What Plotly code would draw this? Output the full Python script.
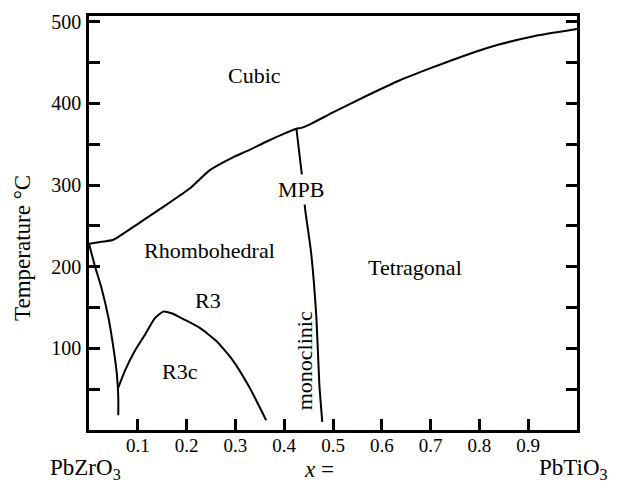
import plotly.graph_objects as go

# Phase boundaries (x = PbTiO3 fraction, T in °C)
cubic_x = [0.0, 0.02, 0.05, 0.104, 0.159, 0.207, 0.247, 0.295, 0.329, 0.363, 0.400, 0.425, 0.435, 0.455, 0.500, 0.568, 0.636, 0.704, 0.772, 0.840, 0.909, 1.0]
cubic_T = [228, 230, 233, 254, 276, 296, 318, 334, 343, 353, 363, 369, 370, 375, 389, 409, 428, 444, 459, 472, 482, 491]

mpb_x = [0.425, 0.436, 0.443, 0.455, 0.466, 0.472, 0.478]
mpb_T = [369, 314, 270, 218, 137, 56, 10]

afe_x = [0.0, 0.012, 0.026, 0.040, 0.050, 0.057, 0.060, 0.060]
afe_T = [228, 201, 173, 137, 101, 69, 40, 18]

r3c_x = [0.060, 0.074, 0.094, 0.115, 0.135, 0.152, 0.169, 0.196, 0.227, 0.261, 0.295, 0.329, 0.363]
r3c_T = [52, 73, 97, 117, 137, 145, 143, 135, 125, 109, 85, 52, 12]

x_ticks = [0.1, 0.2, 0.3, 0.4, 0.5, 0.6, 0.7, 0.8, 0.9]
x_ticklabels = ["0.1", "0.2", "0.3", "0.4", "0.5", "0.6", "0.7", "0.8", "0.9"]
y_ticks = [50, 100, 150, 200, 250, 300, 350, 400, 450, 500]
y_ticklabels = ["", "100", "", "200", "", "300", "", "400", "", "500"]

# region labels: text, x, T, angle
region_text = ["Cubic", "Rhombohedral", "R3", "R3c", "Tetragonal", "monoclinic"]
region_x = [0.340, 0.247, 0.243, 0.186, 0.667, 0.442]
region_T = [434, 220, 158, 72, 199, 85]
region_angle = [0, 0, 0, 0, 0, -90]

FONT = "Liberation Serif"

fig = go.Figure()
for xs, ts in [(cubic_x, cubic_T), (mpb_x, mpb_T), (afe_x, afe_T), (r3c_x, r3c_T)]:
    fig.add_trace(go.Scatter(x=xs, y=ts, mode="lines",
                             line=dict(color="black", width=2, shape="spline", smoothing=0.5),
                             hoverinfo="skip", showlegend=False))

for t, x, y, a in zip(region_text, region_x, region_T, region_angle):
    fig.add_annotation(x=x, y=y, text=t, textangle=a, showarrow=False,
                       xanchor="center", yanchor="middle",
                       font=dict(family=FONT, size=22, color="black"))

fig.add_annotation(x=0.435, y=294, text="MPB", showarrow=False, bgcolor="white",
                   xanchor="center", yanchor="middle", borderpad=2,
                   font=dict(family=FONT, size=22, color="black"))

bottom = dict(xref="paper", yref="paper", showarrow=False, xanchor="center", yanchor="middle",
              font=dict(family=FONT, size=23, color="black"))
fig.add_annotation(x=-0.135, y=0.44, text="Temperature °C", textangle=-90, **bottom)
fig.add_annotation(x=-0.008, y=-0.095, text="PbZrO<sub>3</sub>", **bottom)
fig.add_annotation(x=0.472, y=-0.095, text="<i>x</i> =", **bottom)
fig.add_annotation(x=0.993, y=-0.095, text="PbTiO<sub>3</sub>", **bottom)

fig.update_layout(
    width=609, height=481,
    margin=dict(l=81, r=40, t=3, b=59),
    paper_bgcolor="white", plot_bgcolor="white",
    font=dict(family=FONT, size=20, color="black"),
    showlegend=False,
    xaxis=dict(range=[0, 1], tickvals=x_ticks, ticktext=x_ticklabels,
               ticks="inside", ticklen=11, tickwidth=2.5, tickcolor="black",
               showline=True, linewidth=2.5, linecolor="black", mirror=True,
               showgrid=False, zeroline=False, tickfont=dict(family=FONT, size=19),
               ticklabelstandoff=-4),
    yaxis=dict(range=[0, 507], tickvals=y_ticks, ticktext=y_ticklabels,
               ticks="inside", ticklen=11, tickwidth=2.5, tickcolor="black",
               showline=True, linewidth=2.5, linecolor="black", mirror="allticks",
               showgrid=False, zeroline=False, tickfont=dict(family=FONT, size=20),
               ticklabelstandoff=1),
)

fig.write_html("out.html")
